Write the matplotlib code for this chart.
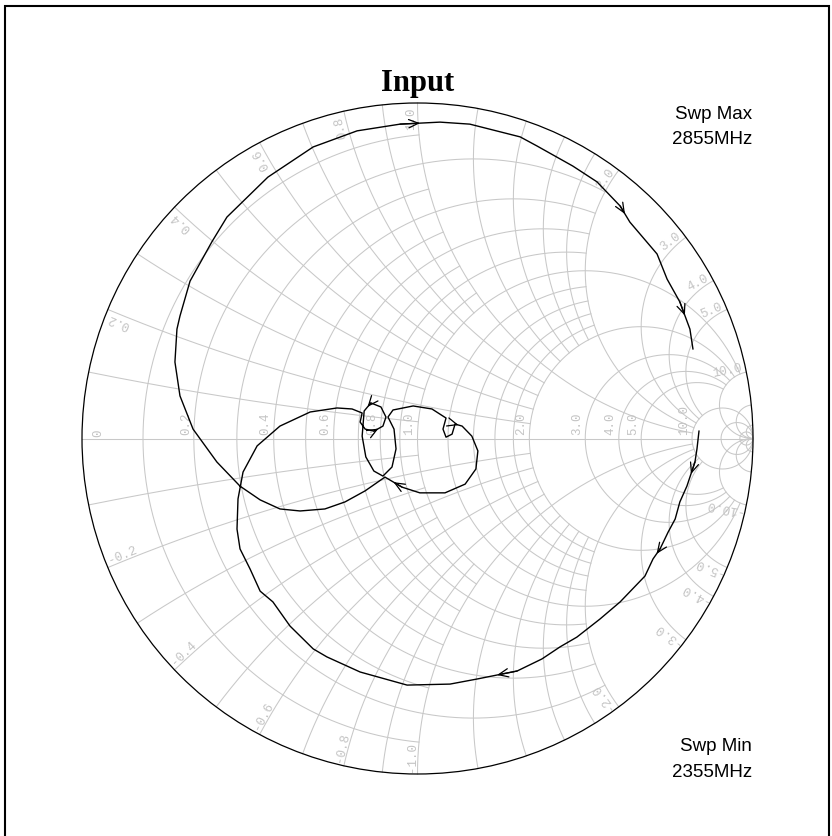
import numpy as np
import matplotlib.pyplot as plt
from matplotlib.patches import Circle, Rectangle

# ----- Sweep data: reflection coefficient (2355 -> 2855 MHz) -----
gamma_re = [0.839, 0.833, 0.827, 0.803, 0.782, 0.768, 0.747, 0.723, 0.702, 0.678,
            0.604, 0.544, 0.475, 0.425, 0.371, 0.297, 0.177, 0.097, -0.031, -0.171,
            -0.270, -0.311, -0.380, -0.431, -0.469, -0.499, -0.529, -0.538, -0.535, -0.520,
            -0.478, -0.410, -0.365, -0.320, -0.240, -0.195, -0.165, -0.171, -0.156, -0.130,
            -0.103, -0.094, -0.109, -0.139, -0.159, -0.165, -0.154, -0.130, -0.103, -0.076,
            -0.064, -0.070, -0.088, -0.073, -0.013, 0.043, 0.085, 0.076, 0.085, 0.103,
            0.112, 0.133, 0.162, 0.180, 0.174, 0.142, 0.082, 0.007, -0.046, -0.097,
            -0.156, -0.216, -0.276, -0.350, -0.410, -0.469, -0.529, -0.598, -0.669, -0.708,
            -0.723, -0.717, -0.708, -0.678, -0.613, -0.568, -0.446, -0.311, -0.180, -0.052,
            0.067, 0.156, 0.306, 0.356, 0.463, 0.535, 0.604, 0.633, 0.714, 0.744,
            0.782, 0.812, 0.821]
gamma_im = [0.022, -0.031, -0.070, -0.142, -0.189, -0.240, -0.279, -0.329, -0.359, -0.410,
            -0.487, -0.538, -0.592, -0.621, -0.657, -0.693, -0.717, -0.732, -0.735, -0.696,
            -0.651, -0.627, -0.559, -0.487, -0.455, -0.389, -0.329, -0.270, -0.180, -0.100,
            -0.022, 0.037, 0.058, 0.079, 0.091, 0.088, 0.076, 0.049, 0.028, 0.022,
            0.037, 0.064, 0.094, 0.106, 0.082, 0.007, -0.055, -0.097, -0.112, -0.085,
            -0.031, 0.028, 0.064, 0.085, 0.097, 0.088, 0.061, 0.028, 0.004, 0.013,
            0.043, 0.037, 0.007, -0.037, -0.091, -0.136, -0.162, -0.162, -0.145, -0.115,
            -0.156, -0.189, -0.210, -0.216, -0.210, -0.183, -0.142, -0.070, 0.028, 0.127,
            0.228, 0.326, 0.365, 0.469, 0.586, 0.660, 0.779, 0.869, 0.917, 0.937,
            0.943, 0.937, 0.899, 0.872, 0.812, 0.765, 0.693, 0.645, 0.550, 0.475,
            0.407, 0.326, 0.267]
arrow_at = [2, 7, 15, 39, 43, 60, 68, 89, 96, 100]   # segments carrying a direction arrow

# ----- Smith chart grid: circle value and the limit where it is cut -----
INF = np.inf
r_values = [0.1, 0.2, 0.3, 0.4, 0.5, 0.6, 0.7, 0.8, 0.9, 1.0,
            1.2, 1.4, 1.6, 1.8, 2.0, 3.0, 4.0, 5.0, 10.0, 20.0, 50.0]
r_limits = [1, 2, 1, 2, 1, 2, 1, 2, 1, 10,
            2, 2, 2, 2, 10, 10, 10, 10, INF, INF, INF]
x_values = [0.1, 0.2, 0.3, 0.4, 0.5, 0.6, 0.7, 0.8, 0.9, 1.0,
            1.2, 1.4, 1.6, 1.8, 2.0, 3.0, 4.0, 5.0, 10.0, 20.0, 50.0]
x_limits = [1, 2, 1, 2, 1, 2, 1, 2, 1, 10,
            2, 2, 2, 2, 10, 10, 10, 10, INF, INF, INF]
r_labels = [0.2, 0.4, 0.6, 0.8, 1.0, 2.0, 3.0, 4.0, 5.0, 10.0]
x_labels = [0.2, 0.4, 0.6, 0.8, 1.0, 2.0, 3.0, 4.0, 5.0, 10.0]

GRID = '#c8c8c8'
LABEL_FONT = dict(family='Liberation Mono', size=9, color='#c4c4c4')


def to_gamma(z):
    return (z - 1) / (z + 1)


fig = plt.figure(figsize=(8.32, 8.37), dpi=100)
ax = fig.add_axes([0, 0, 1, 1])
ax.set_xlim(-417.5 / 335.5, (832 - 417.5) / 335.5)
ax.set_ylim((439.5 - 837) / 335.5, 439.5 / 335.5)
ax.axis('off')

# Constant resistance circles
for r, lim in zip(r_values, r_limits):
    s = np.linspace(-np.arctan(lim), np.arctan(lim), 800)
    g = to_gamma(r + 1j * np.tan(s))
    ax.plot(g.real, g.imag, color=GRID, lw=0.75, zorder=1)

# Constant reactance arcs (both signs)
for x, lim in zip(x_values, x_limits):
    s = np.linspace(0, np.arctan(lim), 800)
    for sign in (1, -1):
        g = to_gamma(np.tan(s) + 1j * sign * x)
        ax.plot(g.real, g.imag, color=GRID, lw=0.75, zorder=1)

ax.plot([-1, 1], [0, 0], color=GRID, lw=0.75, zorder=1)
ax.add_patch(Circle((0, 0), 1, fill=False, ec='black', lw=0.9, zorder=3))

# Resistance labels along the real axis
for r in r_labels:
    gr = (r - 1) / (r + 1)
    ax.text(gr - 0.006, 0.012, f'{r:.1f}', rotation=90, rotation_mode='anchor',
            ha='left', va='bottom', **LABEL_FONT)
ax.text(-0.97, 0.008, '0', rotation=90, rotation_mode='anchor',
        ha='left', va='top', **LABEL_FONT)

# Reactance labels just inside the rim
for x in x_labels:
    th = np.pi - 2 * np.arctan(x)
    rho = 0.99
    ax.text(rho * np.cos(th), rho * np.sin(th), f'{x:.1f}',
            rotation=np.degrees(th), rotation_mode='anchor',
            ha='right', va='bottom', **LABEL_FONT)
    ax.text(rho * np.cos(-th), rho * np.sin(-th), f'-{x:.1f}',
            rotation=180 - np.degrees(th), rotation_mode='anchor',
            ha='left', va='bottom', **LABEL_FONT)

# Measured trace
gre = np.array(gamma_re)
gim = np.array(gamma_im)
ax.plot(gre, gim, color='black', lw=1.0, zorder=4)
for i in arrow_at:
    xm = (gre[i] + gre[i + 1]) / 2
    ym = (gim[i] + gim[i + 1]) / 2
    ax.annotate('', xy=(xm, ym), xytext=(gre[i], gim[i]),
                arrowprops=dict(arrowstyle='->,head_length=0.7,head_width=0.3',
                                color='black', lw=0.9, shrinkA=0, shrinkB=0),
                zorder=5)

# Titles and sweep annotations
fig.text(418 / 832, 1 - 91 / 837, 'Input', ha='center', va='baseline',
         family='Liberation Serif', weight='bold', size=22)
for txt, ypx in [('Swp Max', 119), ('2855MHz', 144), ('Swp Min', 751), ('2355MHz', 777)]:
    fig.text(752 / 832, 1 - ypx / 837, txt, ha='right', va='baseline',
             family='Liberation Sans', size=13.5)

# Outer frame (its lower edge lies below the picture)
fig.patches.append(Rectangle((5 / 832, -0.01), 824 / 832, 1.01 - 7 / 837,
                             transform=fig.transFigure, fill=False,
                             ec='black', lw=1.5))

fig.savefig('out.png', dpi=100)
